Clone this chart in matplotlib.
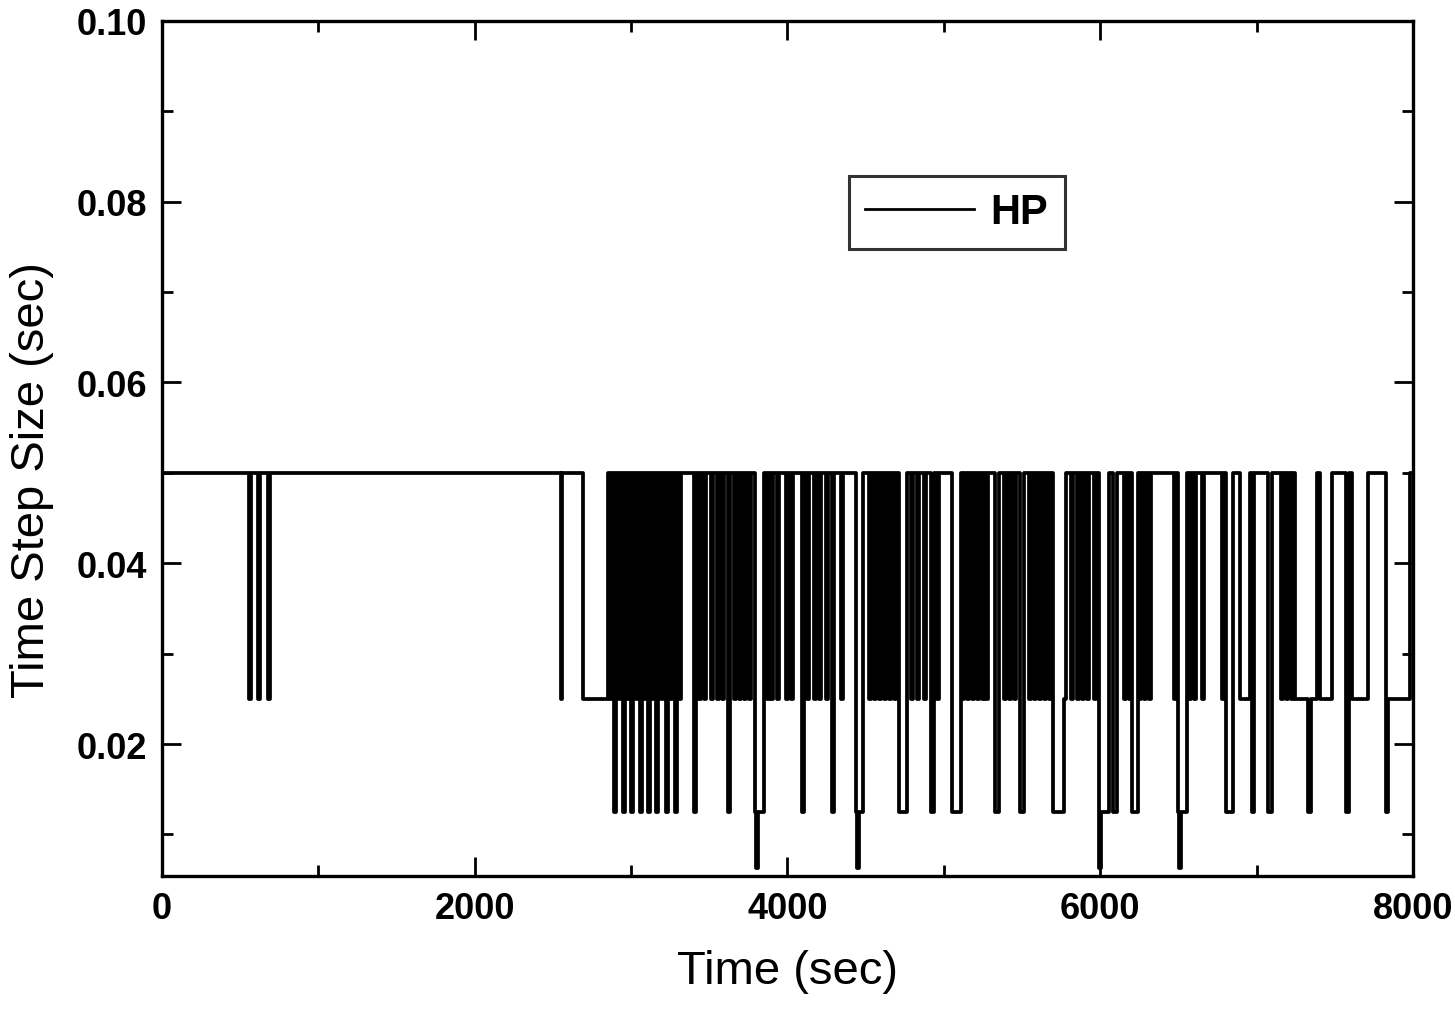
"""
Time step size vs. time for the HP case (step signal, 0.05 / 0.025 / 0.0125 / 0.00625 s).
"""

import matplotlib
matplotlib.use("Agg")
import matplotlib.pyplot as plt
from matplotlib.ticker import MultipleLocator


# ---------- Data ----------
T_END = 8000.0
DT_BASE = 0.05          # normal step size
DT_HALF = 0.025
DT_QUARTER = 0.0125
DT_EIGHTH = 0.00625

# short drops 0.05 -> 0.025 (centre times, sec)
spike_25_t = [
    563, 620, 684, 2555,
    2871, 2929, 2980, 3038, 3089, 3140, 3198, 3255, 3313,
    3441, 3473, 3517, 3556, 3588, 3664, 3696, 3728, 3760,
    3875, 3901, 3939, 3997, 4029, 4131, 4176, 4208, 4253, 4349,
    4528, 4560, 4592, 4624, 4656, 4688, 4796, 4835, 4879, 4963,
    5122, 5154, 5186, 5218, 5250, 5276, 5391, 5423, 5455,
    5551, 5583, 5615, 5647, 5679, 5775, 5819, 5858, 5890, 5922, 5967,
    6158, 6190, 6254, 6286, 6318, 6478, 6574, 6606, 6657, 6785,
    7162, 7194, 7226, 7277, 7706,
]
SPIKE_W = 10.0          # width of a short drop, sec

# longer stretches at 0.025 (start, end)
plateau_25 = [
    (2692, 2852), (6894, 6958), (7245, 7386), (7405, 7482),
    (7610, 7706), (7840, 7981),
]

# drops to 0.0125 (start, end)
dip_125 = [
    (2890, 2905), (2947, 2962), (2998, 3013), (3055, 3070), (3107, 3122),
    (3158, 3173), (3222, 3237), (3280, 3295), (3400, 3418), (3617, 3635),
    (3795, 3852), (4090, 4108), (4282, 4300), (4440, 4485), (4715, 4765),
    (4915, 4935), (5052, 5110), (5330, 5350), (5490, 5510), (5700, 5770),
    (5990, 6055), (6085, 6105), (6205, 6240), (6495, 6555), (6805, 6850),
    (6970, 6985), (7075, 7100), (7330, 7350), (7575, 7592), (7825, 7842),
]

# deepest drops to 0.00625 (start, end)
dip_0625 = [(3800, 3810), (4445, 4455), (5995, 6005), (6505, 6515)]


# ---------- Build the step signal ----------
def build_steps():
    """Merge all intervals into one step series: level = min of active intervals."""
    ivs = [(t - SPIKE_W / 2, t + SPIKE_W / 2, DT_HALF) for t in spike_25_t]
    ivs += [(a, b, DT_HALF) for a, b in plateau_25]
    ivs += [(a, b, DT_QUARTER) for a, b in dip_125]
    ivs += [(a, b, DT_EIGHTH) for a, b in dip_0625]

    edges = sorted({0.0, T_END} | {a for a, _, _ in ivs} | {b for _, b, _ in ivs})
    vals = []
    for e in edges:
        lvl = DT_BASE
        for a, b, v in ivs:
            if a <= e < b:
                lvl = min(lvl, v)
        vals.append(lvl)
    return edges, vals


# ---------- Plot ----------
def main():
    t, dt = build_steps()

    fig = plt.figure(figsize=(14.55, 10.12), dpi=100)
    ax = fig.add_axes([0.1113, 0.1334, 0.8598, 0.8449])

    ax.step(t, dt, where="post", color="black", lw=2.7, label="HP")

    ax.set_xlim(0, 8000)
    ax.set_ylim(0.0054, 0.10)
    ax.xaxis.set_major_locator(MultipleLocator(2000))
    ax.xaxis.set_minor_locator(MultipleLocator(1000))
    ax.yaxis.set_major_locator(MultipleLocator(0.02))
    ax.yaxis.set_minor_locator(MultipleLocator(0.01))
    ax.yaxis.set_major_formatter(plt.FuncFormatter(lambda v, _: f"{v:.2f}"))

    ax.tick_params(which="both", direction="in", top=True, right=True, width=2)
    ax.tick_params(which="major", length=14, pad=11)
    ax.tick_params(which="minor", length=8)
    for lab in ax.get_xticklabels() + ax.get_yticklabels():
        lab.set_fontfamily(["Liberation Sans", "DejaVu Sans"])
        lab.set_fontweight("bold")
        lab.set_fontsize(26)
    for sp in ax.spines.values():
        sp.set_linewidth(2.4)

    fam = ["Liberation Sans", "DejaVu Sans"]
    ax.set_xlabel("Time (sec)", fontsize=34, family=fam)
    ax.set_ylabel("Time Step Size (sec)", fontsize=34, family=fam)
    # y label sits a bit below the axes centre, as in the original
    ax.xaxis.set_label_coords(0.5, -0.085)
    ax.yaxis.set_label_coords(-0.086, 0.464)

    leg = ax.legend(loc="upper left", bbox_to_anchor=(0.549, 0.819),
                    borderaxespad=0, frameon=True, fancybox=False,
                    handlelength=2.6, handletextpad=0.4, borderpad=0.4,
                    prop={"family": fam, "weight": "bold", "size": 30})
    leg.get_frame().set_edgecolor("black")
    leg.get_frame().set_linewidth(2.2)
    leg.get_lines()[0].set_linewidth(2.0)

    fig.savefig("out.png", dpi=100)


if __name__ == "__main__":
    main()
